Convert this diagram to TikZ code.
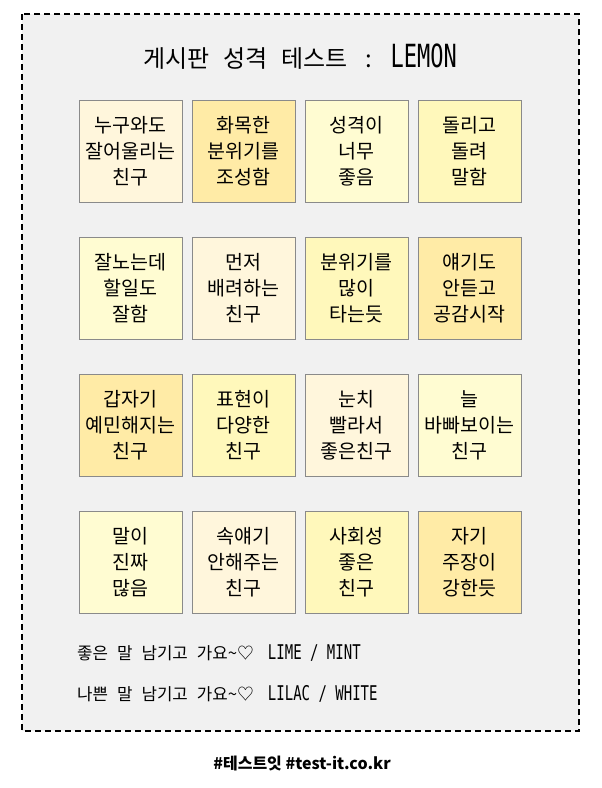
\documentclass[tikz,border=0pt]{standalone}
\usepackage{fontspec}
\usepackage{graphicx}
\usepackage{tikz}
\newfontfamily\kr{Noto Sans CJK KR}
\newfontfamily\lat{DejaVu Sans Mono}
\newcommand{\tall}[1]{{\lat\scalebox{1}[1.45]{#1}}}
\newcommand{\gap}{\hspace{9pt}}
\definecolor{panel}{HTML}{F1F1F1}
\definecolor{edge}{HTML}{8A8A8A}
\definecolor{cream}{HTML}{FFF6DC}
\definecolor{pale}{HTML}{FFFCD2}
\definecolor{lemon}{HTML}{FFF8BB}
\definecolor{gold}{HTML}{FFEBA6}

\begin{document}
\begin{tikzpicture}[x=1pt, y=-1pt, font=\kr]
\useasboundingbox (0,0) rectangle (602,788);

\draw [fill=panel, line width=1.6pt, dash pattern=on 6pt off 4pt] (22,14) rectangle (579,731);

\tikzstyle{every node}=[text=black, inner sep=0pt]
\draw (300, 57) node (title) {\fontsize{24}{27}\selectfont 게시판\hspace{14pt}성격\hspace{14pt}테스트\hspace{18pt}:\hspace{18pt}\tall{\fontsize{22}{25}\selectfont LEMON}}
      (77, 653) node [anchor=west] (good) {\fontsize{16.8}{19}\selectfont 좋은\gap 말\gap 남기고\gap 가요\textasciitilde♡\hspace{14pt}\tall{\fontsize{14}{16}\selectfont LIME / MINT}}
      (77, 694) node [anchor=west] (bad) {\fontsize{16.8}{19}\selectfont 나쁜\gap 말\gap 남기고\gap 가요\textasciitilde♡\hspace{14pt}\tall{\fontsize{14}{16}\selectfont LILAC / WHITE}}
      (302, 763) node (tag) {\fontsize{16}{18}\selectfont\bfseries \#테스트잇 \#test-it.co.kr};

\tikzstyle{every node}=[rectangle, draw=edge, minimum width=103pt, minimum height=102pt, align=center, font=\kr\fontsize{19.5}{26}\selectfont]

\tikzstyle{every node}+=[fill=cream]
\draw (130.5, 151) node (p11) {누구와도\\잘어울리는\\친구}
      (243.5, 288) node (p22) {먼저\\배려하는\\친구}
      (356.5, 425) node (p33) {눈치\\빨라서\\좋은친구}
      (243.5, 562) node (p42) {속얘기\\안해주는\\친구};

\tikzstyle{every node}+=[fill=gold]
\draw (243.5, 151) node (p12) {화목한\\분위기를\\조성함}
      (469.5, 288) node (p24) {얘기도\\안듣고\\공감시작}
      (130.5, 425) node (p31) {갑자기\\예민해지는\\친구}
      (469.5, 562) node (p44) {자기\\주장이\\강한듯};

\tikzstyle{every node}+=[fill=pale]
\draw (356.5, 151) node (p13) {성격이\\너무\\좋음}
      (130.5, 288) node (p21) {잘노는데\\할일도\\잘함}
      (469.5, 425) node (p34) {늘\\바빠보이는\\친구}
      (130.5, 562) node (p41) {말이\\진짜\\많음};

\tikzstyle{every node}+=[fill=lemon]
\draw (469.5, 151) node (p14) {돌리고\\돌려\\말함}
      (356.5, 288) node (p23) {분위기를\\많이\\타는듯}
      (243.5, 425) node (p32) {표현이\\다양한\\친구}
      (356.5, 562) node (p43) {사회성\\좋은\\친구};

\end{tikzpicture}
\end{document}
